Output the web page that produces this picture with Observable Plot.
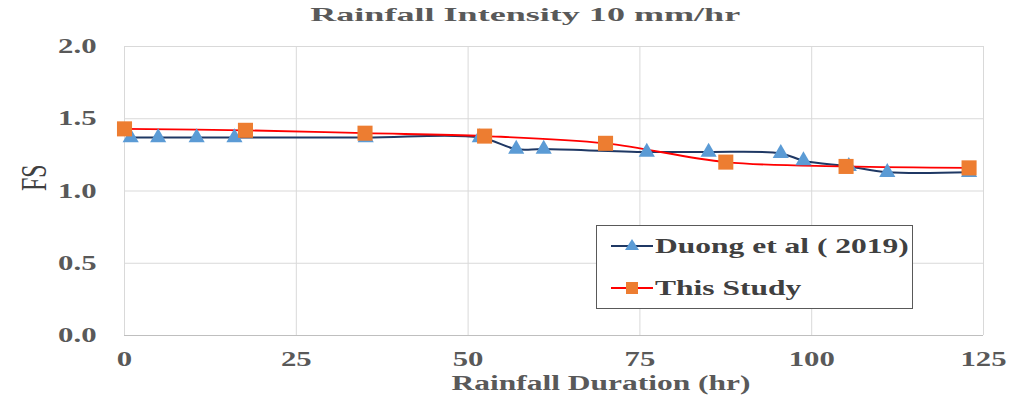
<!DOCTYPE html>
<html>
<head>
<meta charset="utf-8">
<script src="https://cdn.jsdelivr.net/npm/d3@7"></script>
<script src="https://cdn.jsdelivr.net/npm/@observablehq/plot@0.6"></script>
<style>
  body { margin: 0; background: #fff; font-family: "Liberation Serif", serif; }
  #wrap { position: relative; width: 1011px; height: 408px; }
  #title { height: 30px; line-height: 30px; text-align: center; font-weight: bold; font-size: 19.5px; color: #595959; padding-left: 40px; box-sizing: border-box; }
  #title span { display: inline-block; transform: scaleX(1.85); transform-origin: center; }
  #legend { position: absolute; left: 596px; top: 225px; width: 317px; height: 84px; border: 1.5px solid #595959; box-sizing: border-box; background: #fff; font-weight: bold; font-size: 21px; color: #404040; }
  .row { position: absolute; left: 14px; display: flex; align-items: center; }
  .row svg { margin-right: 2px; }
  .row span { display: inline-block; transform: scaleX(1.5); transform-origin: left center; }
</style>
</head>
<body>
<div id="wrap">
  <div id="title"><span>Rainfall Intensity 10 mm/hr</span></div>
  <div id="chart"></div>
  <div id="legend"></div>
</div>
<script>
const duongX = [0.9, 4.9, 10.5, 16, 35.1, 51.7, 57, 61, 76, 85, 95.5, 98.8, 105.4, 111, 122.9];
const duongY = [1.37, 1.37, 1.37, 1.37, 1.37, 1.37, 1.29, 1.29, 1.27, 1.27, 1.26, 1.21, 1.17, 1.13, 1.13];
const studyX = [0, 17.6, 35, 52.4, 70, 87.5, 105, 122.9];
const studyY = [1.43, 1.42, 1.40, 1.38, 1.33, 1.20, 1.17, 1.16];
const xTicks = [0, 25, 50, 75, 100, 125];
const yTicks = [0, 0.5, 1.0, 1.5, 2.0];
const seriesNames = ["Duong et al ( 2019)", "This Study"];

const duong = duongX.map((x, i) => ({x, y: duongY[i]}));
const study = studyX.map((x, i) => ({x, y: studyY[i]}));

const chart = Plot.plot({
  width: 1011,
  height: 378,
  marginTop: 16,
  marginBottom: 73,
  marginLeft: 124,
  marginRight: 28,
  style: { fontFamily: "Liberation Serif, serif", fontSize: "20px", fontWeight: "bold", color: "#595959", background: "#fff" },
  x: { domain: [0, 125], label: null },
  y: { domain: [0, 2], label: null },
  marks: [
    Plot.gridX(xTicks, { stroke: "#d9d9d9", strokeOpacity: 1, strokeWidth: 1 }),
    Plot.gridY(yTicks, { stroke: "#d9d9d9", strokeOpacity: 1, strokeWidth: 1 }),
    Plot.ruleY([0], { stroke: "#bfbfbf", strokeWidth: 1.2 }),
    Plot.axisX({ ticks: xTicks, tickSize: 0, tickPadding: 16, label: null, fontSize: 20.5 }),
    Plot.axisY({ ticks: yTicks, tickSize: 0, tickPadding: 28, label: null, tickFormat: d3.format(".1f"), fontSize: 20.5 }),
    Plot.line(duong, { x: "x", y: "y", stroke: "#1f3864", strokeWidth: 2, curve: "catmull-rom" }),
    Plot.line(study, { x: "x", y: "y", stroke: "#ff0000", strokeWidth: 1.8, curve: "catmull-rom" }),
    Plot.dot(duong, { x: "x", y: "y", symbol: "triangle", r: 6, fill: "#5b9bd5", stroke: "none" }),
    Plot.dot(study, { x: "x", y: "y", symbol: "square", r: 8.5, fill: "#ed7d31", stroke: "none" }),
    Plot.text(["Rainfall Duration (hr)"], { frameAnchor: "bottom", dx: 47, dy: 54, fontSize: 21, fontWeight: "bold", fill: "#595959" }),
    Plot.text(["FS"], { frameAnchor: "left", dx: -90, rotate: -90, fontSize: 24, fontWeight: "normal", fill: "#404040" })
  ]
});
// Reference text is horizontally stretched: apply the same stretch to each label
d3.select(chart).selectAll("text").each(function() {
  const t = d3.select(this);
  const tr = t.attr("transform") || "";
  const rotated = /rotate/.test(tr);
  t.attr("transform", tr + (rotated ? " scale(1,1.5)" : " scale(1.5,1)"));
});
document.getElementById("chart").appendChild(chart);

// Legend
const legend = document.getElementById("legend");
const cols = [["#1f3864", "#5b9bd5", "triangle"], ["#ff0000", "#ed7d31", "square"]];
seriesNames.forEach((name, i) => {
  const row = document.createElement("div");
  row.className = "row";
  row.style.top = (i === 0 ? 4 : 46) + "px";
  const [lc, mc, sym] = cols[i];
  const marker = sym === "triangle"
    ? `<path d="M21,9 L28,20 L14,20 Z" fill="${mc}"/>`
    : `<rect x="15" y="10" width="12" height="12" fill="${mc}"/>`;
  row.innerHTML = `<svg width="42" height="32" viewBox="0 0 42 32"><line x1="0" y1="16" x2="42" y2="16" stroke="${lc}" stroke-width="2"/>${marker}</svg><span>${name}</span>`;
  legend.appendChild(row);
});
</script>
</body>
</html>
